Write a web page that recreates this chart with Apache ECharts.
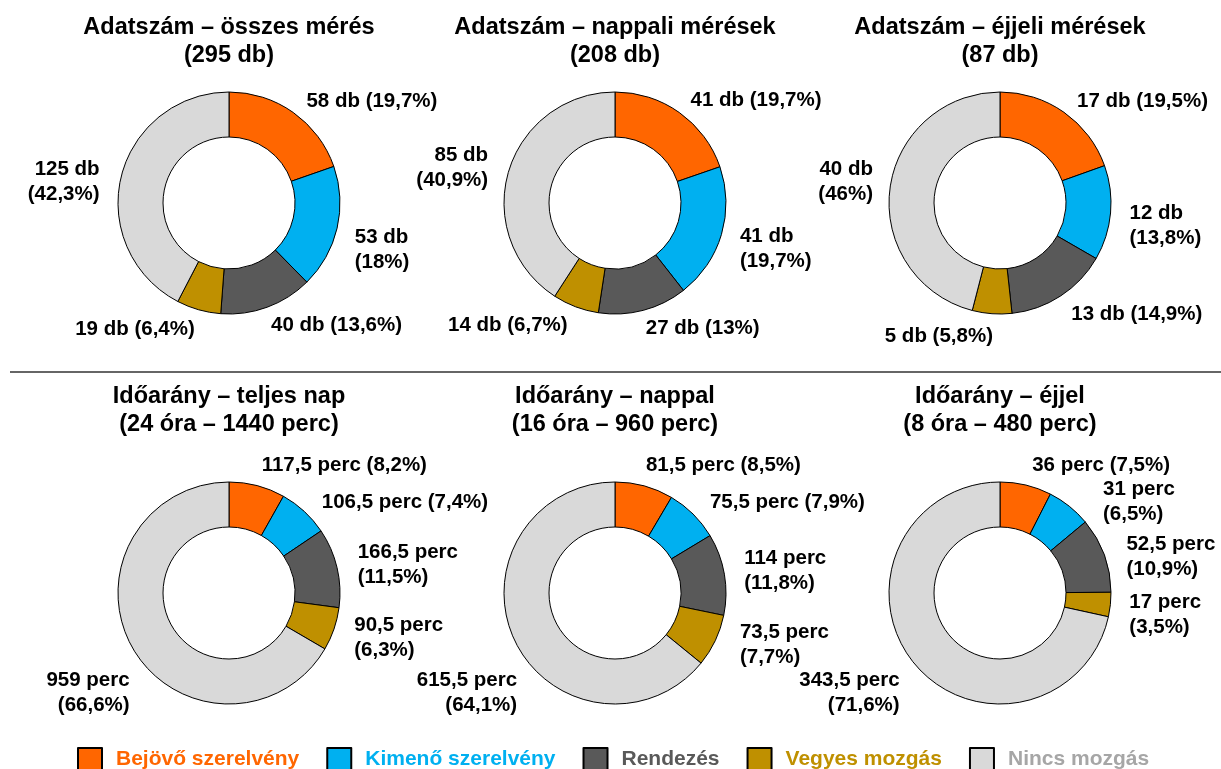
<!DOCTYPE html>
<html>
<head>
<meta charset="utf-8">
<title>Adatszám és időarány</title>
<script src="https://cdn.jsdelivr.net/npm/echarts@6/dist/echarts.min.js"></script>
<style>
    html, body { margin: 0; padding: 0; background: #fff; }
    #main { width: 1221px; height: 769px; }
</style>
</head>
<body>
<div id="main"></div>
<script>
// kategóriák
var categories = ['Bejövő szerelvény', 'Kimenő szerelvény', 'Rendezés', 'Vegyes mozgás', 'Nincs mozgás'];

// adatszám (db)
var countAll = [58, 53, 40, 19, 125];
var countDay = [41, 41, 27, 14, 85];
var countNight = [17, 12, 13, 5, 40];

// időarány (perc)
var timeAll = [117.5, 106.5, 166.5, 90.5, 959];
var timeDay = [81.5, 75.5, 114, 73.5, 615.5];
var timeNight = [36, 31, 52.5, 17, 343.5];

// százalékok, ahogy a címkéken szerepelnek
var pctCountAll = [19.7, 18, 13.6, 6.4, 42.3];
var pctCountDay = [19.7, 19.7, 13, 6.7, 40.9];
var pctCountNight = [19.5, 13.8, 14.9, 5.8, 46];
var pctTimeAll = [8.2, 7.4, 11.5, 6.3, 66.6];
var pctTimeDay = [8.5, 7.9, 11.8, 7.7, 64.1];
var pctTimeNight = [7.5, 6.5, 10.9, 3.5, 71.6];

var titleTexts = [
    'Adatszám – összes mérés\n(295 db)',
    'Adatszám – nappali mérések\n(208 db)',
    'Adatszám – éjjeli mérések\n(87 db)',
    'Időarány – teljes nap\n(24 óra – 1440 perc)',
    'Időarány – nappal\n(16 óra – 960 perc)',
    'Időarány – éjjel\n(8 óra – 480 perc)'
];

var colors = ['#FF6600', '#00B0F0', '#595959', '#BF9000', '#D9D9D9'];
var legendColors = ['#FF6600', '#00B0F0', '#595959', '#BF9000', '#A6A6A6'];
var FONT = '"Liberation Sans", Arial, sans-serif';

// elrendezés: középpont, címke-tördelés, címke eltolás
var charts = [
    { values: countAll, pct: pctCountAll, unit: 'db', center: [229, 203], wrap: [0, 1, 0, 0, 1],
      nudge: [[0, 0], [-1, 18], [-6, 5], [5, 6], [-3, 9]] },
    { values: countDay, pct: pctCountDay, unit: 'db', center: [615, 203], wrap: [0, 1, 0, 0, 1],
      nudge: [[-2, -1], [0, 10], [-6, 4], [2, 5], [-2, 0]] },
    { values: countNight, pct: pctCountNight, unit: 'db', center: [1000, 203], wrap: [0, 1, 0, 0, 1],
      nudge: [[0, 1], [0, 12], [-2, 7], [7, 9], [2, -5]] },
    { values: timeAll, pct: pctTimeAll, unit: 'perc', center: [229, 593], wrap: [0, 0, 1, 1, 1],
      nudge: [[-4, -7], [3, 1], [2, 0], [2, 4], [14, 38]] },
    { values: timeDay, pct: pctTimeDay, unit: 'perc', center: [615, 593], wrap: [0, 0, 1, 1, 1],
      nudge: [[-7, -7], [2, -2], [1, -1], [7, -2], [20, 46]] },
    { values: timeNight, pct: pctTimeNight, unit: 'perc', center: [1000, 593], wrap: [0, 1, 1, 1, 1],
      nudge: [[-2, -6], [20, 6], [4, 7], [0, 9], [2, 21]] }
];

function fmt(v) {
    return String(v).replace('.', ',');
}

function makeSeries(c, idx) {
    return {
        name: 'chart' + idx,
        type: 'pie',
        center: c.center,
        radius: [66, 111],
        startAngle: 90,
        clockwise: true,
        avoidLabelOverlap: false,
        emphasis: { disabled: true },
        itemStyle: { borderColor: '#000', borderWidth: 1 },
        label: {
            show: true,
            position: 'outside',
            distanceToLabelLine: 5,
            color: '#000',
            fontFamily: FONT,
            fontWeight: 'bold',
            fontSize: 20.5,
            lineHeight: 25,
            formatter: function (p) {
                var a = fmt(p.value) + ' ' + c.unit;
                var b = '(' + fmt(c.pct[p.dataIndex]) + '%)';
                return c.wrap[p.dataIndex] ? a + '\n' + b : a + ' ' + b;
            }
        },
        labelLine: { show: false, length: 14, length2: 0 },
        labelLayout: function (params) {
            var n = c.nudge[params.dataIndex];
            return { dx: n[0], dy: n[1] };
        },
        data: categories.map(function (name, i) {
            return { name: name, value: c.values[i], itemStyle: { color: colors[i] } };
        })
    };
}

var myChart = echarts.init(document.getElementById('main'));

var option = {
    animation: false,
    backgroundColor: '#fff',
    title: titleTexts.map(function (t, i) {
        return {
            text: t,
            left: charts[i].center[0],
            top: i < 3 ? 14 : 383,
            textAlign: 'center',
            padding: 0,
            textStyle: {
                fontFamily: FONT,
                fontWeight: 'bold',
                fontSize: 23.5,
                lineHeight: 28,
                color: '#000'
            }
        };
    }),
    legend: {
        left: 77,
        top: 747,
        padding: 0,
        icon: 'rect',
        itemWidth: 24,
        itemHeight: 23,
        itemGap: 27,
        selectedMode: false,
        textStyle: { fontFamily: FONT, fontWeight: 'bold', fontSize: 21, padding: [0, 0, 0, 9] },
        data: categories.map(function (name, i) {
            return { name: name, textStyle: { color: legendColors[i] } };
        })
    },
    graphic: [{
        type: 'line',
        shape: { x1: 10, y1: 372, x2: 1221, y2: 372 },
        style: { stroke: '#333', lineWidth: 1.5 }
    }],
    series: charts.map(makeSeries)
};

myChart.setOption(option);

window.addEventListener('resize', function () {
    myChart.resize();
});
</script>
</body>
</html>
